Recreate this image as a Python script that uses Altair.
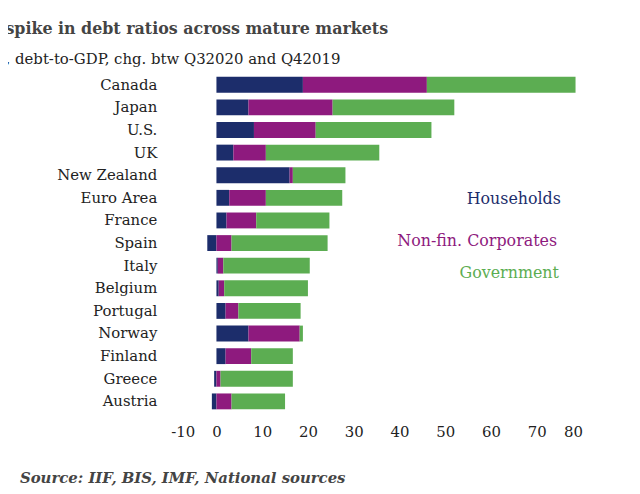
import altair as alt
import pandas as pd

countries = ["Canada","Japan","U.S.","UK","New Zealand","Euro Area","France","Spain",
             "Italy","Belgium","Portugal","Norway","Finland","Greece","Austria"]
households = [18.9, 7.0, 8.2, 3.7, 16.0, 2.8, 2.2, -2.0, 0.3, 0.5, 2.0, 7.0, 2.0, -0.5, -1.0]
corporates = [27.1, 18.4, 13.5, 7.1, 0.7, 8.0, 6.5, 3.3, 1.2, 1.2, 2.8, 11.2, 5.6, 0.9, 3.3]
government = [32.5, 26.6, 25.3, 24.8, 11.5, 16.7, 16.0, 21.0, 18.9, 18.3, 13.6, 0.7, 9.1, 15.8, 11.7]
series = ["Households", "Non-fin. Corporates", "Government"]
colors = ["#1c2d6b", "#8e1a7e", "#5cad52"]

rows = []
for i, c in enumerate(countries):
    for k, (s, vals) in enumerate(zip(series, [households, corporates, government])):
        rows.append({"country": c, "series": s, "value": vals[i], "order": k})
df = pd.DataFrame(rows)

W, H = 415, 342
font = "DejaVu Serif"

bars = alt.Chart(df).mark_bar(size=16).encode(
    y=alt.Y("country:N", sort=countries, title=None,
            axis=alt.Axis(labelFont=font, labelFontSize=15, labelColor="#222", ticks=False,
                          domain=False, labelPadding=14)),
    x=alt.X("value:Q", stack="zero", title=None,
            scale=alt.Scale(domain=[-10, 80], nice=False),
            axis=alt.Axis(values=list(range(-10, 81, 10)), grid=False, ticks=False, domain=False,
                          labelExpr="replace(datum.label, '\u2212', '-')",
                          labelFont=font, labelFontSize=15, labelColor="#222", labelPadding=12)),
    color=alt.Color("series:N", scale=alt.Scale(domain=series, range=colors), legend=None),
    order=alt.Order("order:Q"),
)

leg = pd.DataFrame({"t": series, "x": [65, 57, 64], "y": [127, 169, 201], "c": colors})
legend = alt.Chart(leg).mark_text(font=font, fontSize=16).encode(
    text="t:N", x=alt.X("x:Q"), y=alt.Y("y:Q", scale=None),
    color=alt.Color("c:N", scale=None))

src = alt.Chart(pd.DataFrame({"t": ["Source: IIF, BIS, IMF, National sources"]})).mark_text(
    font=font, fontSize=15, fontStyle="italic", fontWeight="bold", align="left", color="#444"
).encode(text="t:N", x=alt.value(-152), y=alt.value(H + 66))

chart = alt.layer(bars, legend, src).properties(
    width=W, height=H,
    autosize=alt.AutoSizeParams(type="none"),
    padding={"left": 164, "top": 64, "right": 50, "bottom": 80},
    title=alt.TitleParams("Chart 2: Sharp spike in debt ratios across mature markets",
                          subtitle="percentage points, debt-to-GDP, chg. btw Q32020 and Q42019",
                          anchor="start", dx=-152, font=font, fontSize=16, fontWeight="bold",
                          color="#444", subtitleFont=font, subtitleFontSize=15,
                          subtitleColor="#222", subtitlePadding=16, offset=6),
).configure_view(stroke=None)

chart.save("out.html", embed_options={"renderer": "svg", "actions": False})
